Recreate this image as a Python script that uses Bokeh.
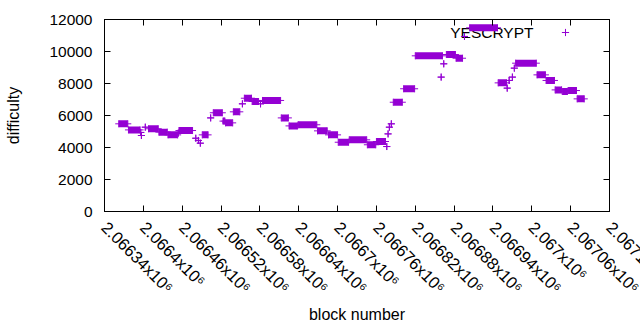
import math
from bokeh.plotting import figure
from bokeh.models import (Range1d, FixedTicker, LinearAxis, Legend, LegendItem,
                          Label, ColumnDataSource, CustomJSTickFormatter)
from bokeh.embed import file_html
from bokeh.resources import INLINE

# ---- data: runs of constant difficulty (first block, last block, difficulty)
run_start = [2066362, 2066377, 2066396, 2066397, 2066403, 2066408, 2066424, 2066438,
             2066454, 2066455, 2066481, 2066485, 2066488, 2066491, 2066504, 2066508,
             2066523, 2066527, 2066539, 2066553, 2066556, 2066568, 2066581, 2066584,
             2066613, 2066625, 2066639, 2066669, 2066686, 2066701, 2066718, 2066746,
             2066760, 2066776, 2066778, 2066780, 2066783, 2066786, 2066802, 2066820,
             2066860, 2066864, 2066868, 2066883, 2066896, 2066904, 2066948, 2066962,
             2066965, 2066970, 2066973, 2066975, 2067008, 2067022, 2067036, 2067047,
             2067056, 2067070]
run_end = [2066376, 2066395, 2066396, 2066397, 2066403, 2066423, 2066437, 2066453,
           2066454, 2066476, 2066481, 2066485, 2066488, 2066500, 2066504, 2066522,
           2066526, 2066538, 2066549, 2066553, 2066567, 2066578, 2066581, 2066612,
           2066624, 2066638, 2066668, 2066684, 2066700, 2066717, 2066745, 2066759,
           2066774, 2066776, 2066778, 2066780, 2066783, 2066800, 2066819, 2066862,
           2066860, 2066864, 2066882, 2066893, 2066896, 2066947, 2066961, 2066962,
           2066965, 2066970, 2066973, 2067007, 2067021, 2067035, 2067046, 2067055,
           2067069, 2067081]
run_diff = [5480, 5100, 4940, 4750, 5270, 5170, 4960, 4790,
            4900, 5060, 4580, 4440, 4270, 4790, 5850, 6170,
            5650, 5540, 6230, 6730, 7080, 6875, 6730, 6940,
            5850, 5350, 5420, 5040, 4790, 4330, 4480, 4170,
            4375, 4060, 4850, 5270, 5480, 6830, 7670, 9730,
            8400, 9230, 9810, 9580, 10940, 11480, 8040, 7710,
            8190, 8400, 8960, 9270, 8540, 8190, 7600, 7500,
            7560, 7040]

x_ticks = [2066340, 2066400, 2066460, 2066520, 2066580, 2066640, 2066700,
           2066760, 2066820, 2066880, 2066940, 2067000, 2067060, 2067120]
x_tick_labels = ["2.06634x10⁶", "2.0664x10⁶", "2.06646x10⁶", "2.06652x10⁶",
                 "2.06658x10⁶", "2.06664x10⁶", "2.0667x10⁶", "2.06676x10⁶",
                 "2.06682x10⁶", "2.06688x10⁶", "2.06694x10⁶", "2.067x10⁶",
                 "2.06706x10⁶", "2.06712x10⁶"]
y_ticks = [0, 2000, 4000, 6000, 8000, 10000, 12000]
series_name = "YESCRYPT"

COLOR = "#9400D3"
FONT = "Liberation Sans"
FS = "15.5px"
XFS = "16.5px"
X_STANDOFF = 13

p = figure(frame_width=505, frame_height=192, output_backend="svg", toolbar_location=None,
           x_range=Range1d(x_ticks[0], x_ticks[-1]), y_range=Range1d(0, 12000),
           min_border_left=104, min_border_right=31, min_border_top=19,
           min_border_bottom=119)
p.background_fill_color = "white"
p.border_fill_color = "white"
p.outline_line_color = "black"
p.outline_line_width = 1
p.xgrid.visible = False
p.ygrid.visible = False

# key text (drawn beneath the data, as in the original)
p.add_layout(Label(x=429, y=179, x_units="screen", y_units="screen", text=series_name,
                   text_align="right", text_baseline="middle", text_font=FONT,
                   text_font_size=FS, text_color="black", level="underlay"))

# runs as filled bands + end crosses
src = ColumnDataSource(dict(
    x=[(s + e) / 2 for s, e in zip(run_start, run_end)],
    w=[e - s for s, e in zip(run_start, run_end)],
    y=run_diff))
p.rect(x="x", y="y", width="w", height=7, height_units="screen",
       fill_color=COLOR, line_color=None, source=src)
cx = run_start + run_end
cy = run_diff + run_diff
r_cross = p.scatter(cx, cy, marker="cross", size=7, line_color=COLOR, line_width=1)

def style_axis(ax):
    ax.axis_line_color = "black"
    ax.major_tick_line_color = "black"
    ax.major_tick_in = 6
    ax.major_tick_out = 0
    ax.minor_tick_line_color = None
    ax.major_label_text_font = FONT
    ax.major_label_text_font_size = FS
    ax.major_label_text_color = "black"
    ax.axis_label_text_font = FONT
    ax.axis_label_text_font_size = "16px"
    ax.axis_label_text_font_style = "normal"
    ax.axis_label_text_color = "black"

xa = p.xaxis[0]
style_axis(xa)
# tick order rotated so that the right-most label is not pulled back inside the
# canvas: like the original, it simply runs off the page edge
xa.ticker = FixedTicker(ticks=x_ticks[1:] + x_ticks[:1])
xa.major_label_overrides = {t: l for t, l in zip(x_ticks, x_tick_labels)}
xa.major_label_orientation = -math.pi / 4
xa.major_label_text_font_size = XFS
xa.major_label_standoff = X_STANDOFF
xa.axis_label = "block number"
xa.axis_label_standoff = 0

ya = p.yaxis[0]
style_axis(ya)
ya.ticker = FixedTicker(ticks=y_ticks)
ya.major_label_standoff = 12
ya.axis_label = "difficulty"
ya.axis_label_standoff = 24

blank = CustomJSTickFormatter(code="return ''")
ra = LinearAxis(ticker=FixedTicker(ticks=y_ticks), formatter=blank)
style_axis(ra)
ra.major_label_standoff = 0
p.add_layout(ra, "right")
ta = LinearAxis(ticker=FixedTicker(ticks=x_ticks), formatter=blank)
style_axis(ta)
ta.major_label_standoff = 0
p.add_layout(ta, "above")

# key sample marker
leg = Legend(items=[LegendItem(label=" ", renderers=[r_cross])], location=(452, 170),
             padding=0, margin=0, spacing=0, glyph_width=18, glyph_height=18,
             label_height=18, label_width=0, label_standoff=0,
             label_text_font_size="1px", border_line_color=None,
             background_fill_alpha=0)
p.add_layout(leg, "center")

open("out.html", "w").write(file_html(p, INLINE))
